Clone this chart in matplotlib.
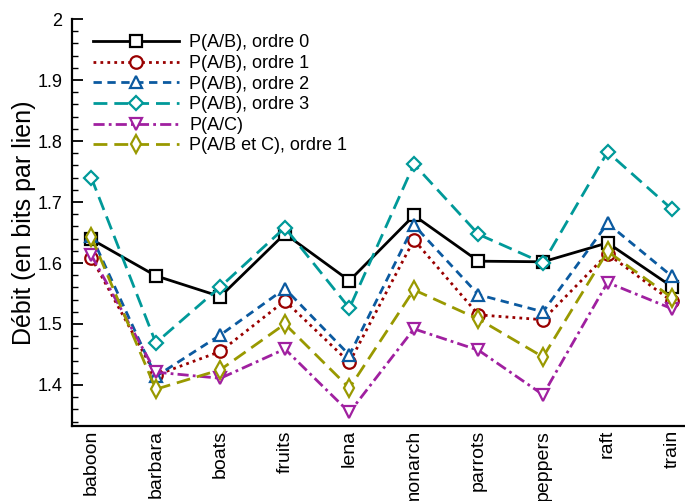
import numpy as np
import matplotlib.pyplot as plt
from matplotlib.ticker import MultipleLocator, FormatStrFormatter

plt.rcParams['font.family'] = ['Liberation Sans', 'DejaVu Sans']

# images testées
images = ['baboon', 'barbara', 'boats', 'fruits', 'lena',
          'monarch', 'parrots', 'peppers', 'raft', 'train']

# débits (bits par lien)
ab_ordre0 = [1.639, 1.579, 1.545, 1.648, 1.571, 1.678, 1.603, 1.602, 1.633, 1.561]
ab_ordre1 = [1.609, 1.416, 1.455, 1.538, 1.437, 1.638, 1.515, 1.507, 1.615, 1.537]
ab_ordre2 = [1.645, 1.414, 1.482, 1.558, 1.449, 1.662, 1.548, 1.520, 1.665, 1.578]
ab_ordre3 = [1.740, 1.469, 1.561, 1.658, 1.526, 1.762, 1.647, 1.600, 1.782, 1.688]
a_c = [1.613, 1.421, 1.411, 1.459, 1.355, 1.492, 1.457, 1.384, 1.568, 1.525]
abc_ordre1 = [1.643, 1.393, 1.425, 1.500, 1.395, 1.556, 1.508, 1.446, 1.619, 1.543]

series = [
    (ab_ordre0, 'P(A/B), ordre 0', 'black', '-', 's'),
    (ab_ordre1, 'P(A/B), ordre 1', '#990000', (0, (1, 1.5)), 'o'),
    (ab_ordre2, 'P(A/B), ordre 2', '#0b5aa0', (0, (3, 2)), '^'),
    (ab_ordre3, 'P(A/B), ordre 3', '#009999', (0, (5, 2.5)), 'D'),
    (a_c, 'P(A/C)', '#a020a0', (0, (4, 1.5, 1, 1.5)), 'v'),
    (abc_ordre1, 'P(A/B et C), ordre 1', '#999900', (0, (5, 2.5)), 'd'),
]

x = np.arange(len(images))

fig = plt.figure(figsize=(6.85, 5.01), dpi=100)
ax = fig.add_axes([0.105, 0.150, 0.895, 0.812])

for y, lab, col, ls, mk in series:
    ms = 7.5 if mk == 'D' else 9
    ax.plot(x, y, color=col, linestyle=ls, linewidth=2, marker=mk,
            markersize=ms, markerfacecolor='white', markeredgecolor=col,
            markeredgewidth=1.6, label=lab)

ax.set_xlim(-0.3, 9.2)
ax.set_ylim(1.333, 2.0)
ax.yaxis.set_major_locator(MultipleLocator(0.1))
ax.yaxis.set_minor_locator(MultipleLocator(0.02))
ax.yaxis.set_major_formatter(FormatStrFormatter('%g'))
ax.set_xticks(x)
ax.set_xticklabels(images, rotation=90, va='top', fontsize=14)
ax.tick_params(axis='y', which='major', direction='in', length=8, width=1.3,
               labelsize=13, pad=7)
ax.tick_params(axis='y', which='minor', direction='in', length=4, width=1)
ax.tick_params(axis='x', length=0, pad=3)
ax.set_ylabel('Débit (en bits par lien)', fontsize=18, labelpad=1)

for s in ['top', 'right']:
    ax.spines[s].set_visible(False)
for s in ['left', 'bottom']:
    ax.spines[s].set_linewidth(1.6)

ax.legend(loc='upper left', frameon=False, fontsize=13, handlelength=4.8,
          handletextpad=0.55, labelspacing=0.2, borderaxespad=0,
          bbox_to_anchor=(0.022, 0.98))

fig.savefig('out.png', dpi=100)
